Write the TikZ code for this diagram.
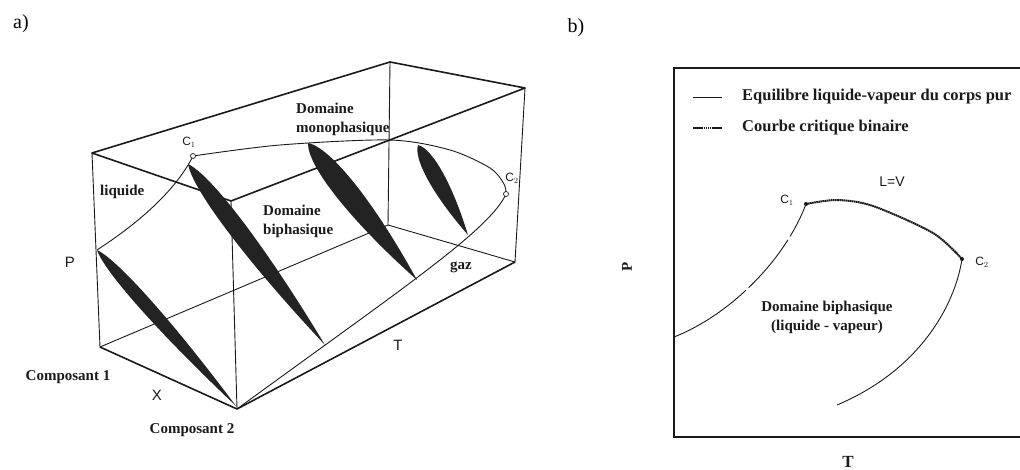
\documentclass[tikz,border=0pt]{standalone}
\usepackage{fontspec}
\setmainfont{Liberation Serif}
\setsansfont{Liberation Sans}
\usetikzlibrary{calc}
\definecolor{cLine}{HTML}{1A1A1A}
\definecolor{cLens}{HTML}{232323}

\begin{document}
\begin{tikzpicture}[
    x=1pt, y=-1pt,
    edge/.style={line width=1.6pt, cLine, line join=round},
    hid/.style={line width=0.9pt, cLine},
    curve/.style={line width=0.9pt, cLine},
    lens/.style={fill=cLens},
    crit/.style={circle, draw=cLine, fill=white, line width=0.7pt, inner sep=0pt, minimum size=5pt},
    dotb/.style={circle, fill=cLine, inner sep=0pt, minimum size=4pt},
    critline/.style={line width=2pt, cLine, dash pattern=on 1.6pt off 0.5pt},
    lab/.style={font=\fontsize{15}{19}\selectfont\bfseries, inner sep=0pt, text=cLine},
    axl/.style={font=\sffamily\fontsize{15}{18}\selectfont, inner sep=0pt, text=cLine},
    cl/.style={font=\sffamily\fontsize{12}{13}\selectfont, inner sep=0pt, text=cLine},
    panel/.style={font=\fontsize{20}{22}\selectfont, inner sep=0pt},
  ]
  \useasboundingbox (0,0) rectangle (1020,470);

  % --- a) box corners ---
  \coordinate (tl) at (92,153);
  \coordinate (bl) at (100,347);
  \coordinate (fa) at (237,409);
  \coordinate (ft) at (231,201);
  \coordinate (bt) at (390,62);
  \coordinate (bb) at (388,225);
  \coordinate (rt) at (525,88);
  \coordinate (rb) at (515,262);

  \draw[hid] (tl) -- (bl) -- (bb) -- (rb) -- (rt);
  \draw[hid] (bt) -- (bb);
  \draw[hid] (ft) -- (fa);
  \draw[edge] (tl) -- (bt) -- (rt) -- (ft) -- cycle;
  \draw[edge] (bl) -- (fa) -- (rb);

  % --- a) phase envelope ---
  \coordinate (pa) at (97,250);
  \coordinate (ca) at (193,156);
  \coordinate (cb) at (506,194);
  \draw[curve] (pa) .. controls (140,222) and (176,190) .. (ca);
  \draw[curve] plot[smooth] coordinates {(193,156) (280,145) (390,140) (450,150) (490,168) (504,184) (506,194)};
  \draw[curve] (cb) .. controls (490,230) and (400,290) .. (fa);

  % --- a) two-phase lenses ---
  \coordinate (l1b) at (236,406);
  \coordinate (l2t) at (188,164);
  \coordinate (l2b) at (325,345);
  \coordinate (l3t) at (308,143);
  \coordinate (l3b) at (417,280);
  \coordinate (l4t) at (418,145);
  \coordinate (l4b) at (468,235);
  \foreach \t/\b/\w in {pa/l1b/9pt, l2t/l2b/12pt, l3t/l3b/15pt, l4t/l4b/11pt}
    \fill[lens] (\t) .. controls ($(\t)!0.1!(\b)!\w!90:(\b)$) and ($(\t)!0.5!(\b)!\w!90:(\b)$) .. (\b)
      .. controls ($(\t)!0.5!(\b)!\w!-90:(\b)$) and ($(\t)!0.1!(\b)!\w!-90:(\b)$) .. (\t) -- cycle;

  \node[crit] (c1a) at (ca) {};
  \node[crit] (c2a) at (cb) {};
  \node[cl] at (189,142) {C$_1$};
  \node[cl] at (512,178) {C$_2$};

  % --- a) labels ---
  \node[panel] (pnla) at (21,24) {a)};
  \node[lab, anchor=west, align=left] (mono) at (296,119) {Domaine\\monophasique};
  \node[lab, anchor=west, align=left] (bi) at (263,221) {Domaine\\biphasique};
  \node[lab, anchor=west] (liq) at (100,192) {liquide};
  \node[lab] (gaz) at (461,267) {gaz};
  \node[lab] (cp1) at (68,377) {Composant 1};
  \node[lab] (cp2) at (192,430) {Composant 2};
  \node[axl] (pax) at (70,262) {P};
  \node[axl] (tax) at (398,345) {T};
  \node[axl] (xax) at (157,395) {X};

  % --- b) frame and legend ---
  \node[panel] (pnlb) at (576,28) {b)};
  \draw[line width=1.3pt, cLine] (1020,68) -| (674,437) -- (1020,437);
  \coordinate (lg1) at (693,97);
  \coordinate (lg2) at (693,128);
  \draw[curve] (lg1) -- ++(29,0);
  \draw[critline] (lg2) -- ++(29,0);
  \node[lab, font=\fontsize{16.5}{19}\selectfont\bfseries, anchor=west] at (742,97) {Equilibre liquide-vapeur du corps pur};
  \node[lab, font=\fontsize{16.5}{19}\selectfont\bfseries, anchor=west] at (742,128) {Courbe critique binaire};

  % --- b) curves ---
  \coordinate (cb1) at (806,204);
  \coordinate (cb2) at (962,259);
  \draw[curve, dash pattern=on 86pt off 4pt on 62pt off 4pt on 100pt]
    (674,337) .. controls (730,315) and (785,260) .. (cb1);
  \draw[critline] plot[smooth] coordinates {(806,204) (837,200) (873,206) (933,233) (962,259)};
  \draw[curve] (cb2) .. controls (955,305) and (920,370) .. (837,405);
  \node[dotb] at (cb1) {};
  \node[dotb] at (cb2) {};
  \node[cl] at (787,200) {C$_1$};
  \node[cl] at (982,262) {C$_2$};
  \node[axl, font=\sffamily\fontsize{14}{15}\selectfont] (lv) at (892,182) {L=V};
  \node[lab, align=center] (bib) at (827,317) {Domaine biphasique\\(liquide - vapeur)};
  \node[lab, rotate=90] (pbx) at (627,267) {P};
  \node[lab, font=\fontsize{17}{19}\selectfont\bfseries] (tbx) at (848,462) {T};
\end{tikzpicture}
\end{document}
